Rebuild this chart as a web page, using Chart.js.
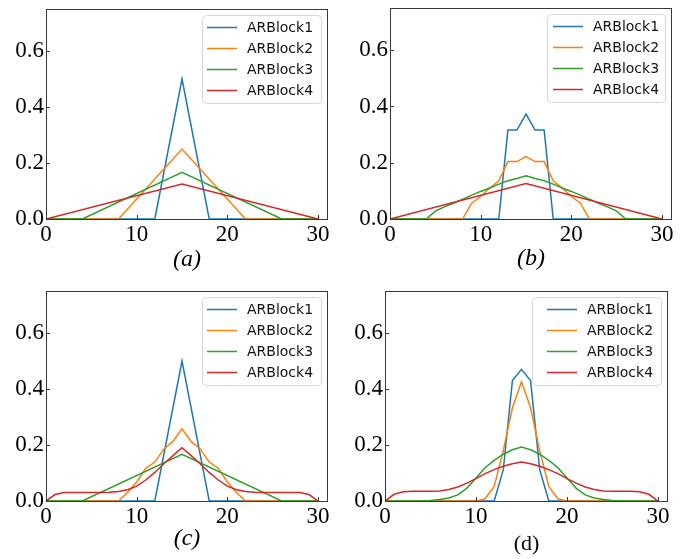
<!DOCTYPE html>
<html><head><meta charset="utf-8">
<script src="https://cdn.jsdelivr.net/npm/chart.js@4.4.0/dist/chart.umd.min.js"></script>
<style>
html,body{margin:0;padding:0;background:#fff;}
#wrap{position:relative;width:699px;height:559px;overflow:hidden;background:#fff;}
canvas{position:absolute;display:block;}
</style></head><body>
<div id="wrap">
<canvas id="ca" width="349" height="279" style="left:0;top:0"></canvas>
<canvas id="cb" width="350" height="279" style="left:349px;top:0"></canvas>
<canvas id="cc" width="349" height="280" style="left:0;top:279px"></canvas>
<canvas id="cd" width="350" height="280" style="left:349px;top:279px"></canvas>
</div>
<script>
// ---------- data ----------
const seriesNames = ['ARBlock1', 'ARBlock2', 'ARBlock3', 'ARBlock4'];
const captions = ['(a)', '(b)', '(c)', '(d)'];
const xTickValues = [0, 10, 20, 30];
const yTickValues = [0, 0.2, 0.4, 0.6];
const steps = [0,1,2,3,4,5,6,7,8,9,10,11,12,13,14,15,16,17,18,19,20,21,22,23,24,25,26,27,28,29,30];

// panel (a)
const aBlock1X = [0, 12, 15, 18, 30];
const aBlock1Y = [0, 0, 0.5, 0, 0];
const aBlock2X = [0, 8, 15, 22, 30];
const aBlock2Y = [0, 0, 0.25, 0, 0];
const aBlock3X = [0, 4, 15, 26, 30];
const aBlock3Y = [0, 0, 0.167, 0, 0];
const aBlock4X = [0, 15, 30];
const aBlock4Y = [0, 0.125, 0];

// panel (b)
const bBlock1Y = [0,0,0,0,0,0,0,0,0,0,0,0,0,0.316,0.316,0.373,0.316,0.316,0,0,0,0,0,0,0,0,0,0,0,0,0];
const bBlock2Y = [0,0,0,0,0,0,0,0,0,0.056,0.08,0.11,0.136,0.204,0.204,0.222,0.204,0.204,0.136,0.11,0.08,0.056,0,0,0,0,0,0,0,0,0];
const bBlock3Y = [0,0,0,0,0,0.028,0.043,0.056,0.07,0.085,0.098,0.11,0.124,0.136,0.144,0.154,0.144,0.136,0.124,0.11,0.098,0.085,0.07,0.056,0.043,0.028,0,0,0,0,0];
const bBlock4X = [0, 15, 30];
const bBlock4Y = [0, 0.126, 0];

// panel (c)
const cBlock1X = [0, 12, 15, 18, 30];
const cBlock1Y = [0, 0, 0.5, 0, 0];
const cBlock2Y = [0,0,0,0,0,0,0,0,0,0.03,0.068,0.117,0.139,0.186,0.213,0.258,0.213,0.186,0.139,0.117,0.068,0.03,0,0,0,0,0,0,0,0,0];
const cBlock3X = [0, 4, 15, 26, 30];
const cBlock3Y = [0, 0, 0.167, 0, 0];
const cBlock4Y = [0,0.023,0.03,0.03,0.03,0.03,0.03,0.031,0.034,0.04,0.053,0.075,0.102,0.133,0.162,0.19,0.162,0.133,0.102,0.075,0.053,0.04,0.034,0.031,0.03,0.03,0.03,0.03,0.03,0.023,0];

// panel (d)
const dBlock1Y = [0,0,0,0,0,0,0,0,0,0,0,0,0,0.112,0.43,0.47,0.43,0.112,0,0,0,0,0,0,0,0,0,0,0,0,0];
const dBlock2Y = [0,0,0,0,0,0,0,0,0,0,0,0.008,0.052,0.18,0.333,0.426,0.333,0.18,0.052,0.008,0,0,0,0,0,0,0,0,0,0,0];
const dBlock3Y = [0,0,0,0,0,0.002,0.005,0.011,0.022,0.046,0.082,0.119,0.145,0.167,0.183,0.193,0.183,0.167,0.145,0.119,0.082,0.046,0.022,0.011,0.005,0.002,0,0,0,0,0];
const dBlock4Y = [0,0.024,0.033,0.035,0.035,0.035,0.036,0.041,0.05,0.064,0.08,0.098,0.112,0.124,0.133,0.139,0.133,0.124,0.112,0.098,0.08,0.064,0.05,0.041,0.036,0.035,0.035,0.035,0.033,0.024,0];

// ---------- styling / layout ----------
const COLORS = ['#1f77b4', '#ff7f0e', '#2ca02c', '#d62728'];
const SERIF = "'Liberation Serif', 'Times New Roman', serif";
const SANS = "'DejaVu Sans', sans-serif";

const panels = [
  { id: 'ca', caption: captions[0], italic: true, capSize: 24, capPad: 7,
    series: [[aBlock1X, aBlock1Y], [aBlock2X, aBlock2Y], [aBlock3X, aBlock3Y], [aBlock4X, aBlock4Y]],
    L: 46, R: 328, T: 9, B: 219, legW: 119, legPadL: 5 },
  { id: 'cb', caption: captions[1], italic: true, capSize: 24, capPad: 8,
    series: [[steps, bBlock1Y], [steps, bBlock2Y], [steps, bBlock3Y], [bBlock4X, bBlock4Y]],
    L: 41, R: 323, T: 8, B: 219, legW: 118, legPadL: 6 },
  { id: 'cc', caption: captions[2], italic: true, capSize: 24, capPad: 8,
    series: [[cBlock1X, cBlock1Y], [steps, cBlock2Y], [cBlock3X, cBlock3Y], [steps, cBlock4Y]],
    L: 46, R: 328, T: 12, B: 222, legW: 119, legPadL: 5 },
  { id: 'cd', caption: captions[3], italic: false, capSize: 22, capPad: 4,
    series: [[steps, dBlock1Y], [steps, dBlock2Y], [steps, dBlock3Y], [steps, dBlock4Y]],
    L: 36, R: 319, T: 12, B: 222, legW: 129, legPadL: 15 }
];

const framePlugin = {
  id: 'frameTicks',
  afterDatasetsDraw(chart) {
    const { ctx, chartArea: a, scales } = chart;
    ctx.save();
    ctx.strokeStyle = '#3a3a3a';
    ctx.lineWidth = 1;
    ctx.strokeRect(Math.round(a.left) + 0.5, Math.round(a.top) + 0.5,
      Math.round(a.right - a.left) - 1, Math.round(a.bottom - a.top));
    ctx.beginPath();
    xTickValues.forEach(v => {
      const px = Math.round(scales.x.getPixelForValue(v)) + 0.5;
      ctx.moveTo(px, a.bottom);
      ctx.lineTo(px, a.bottom - 4);
    });
    yTickValues.forEach(v => {
      const py = Math.round(scales.y.getPixelForValue(v)) + 0.5;
      ctx.moveTo(a.left, py);
      ctx.lineTo(a.left + 4, py);
    });
    ctx.stroke();
    ctx.restore();
  },
  afterDraw(chart) {
    const p = chart.options.plugins.frameTicks;
    const { ctx, chartArea: a } = chart;
    const w = p.legW, h = 88;
    const x0 = a.right - 7 - w, y0 = a.top + 6;
    ctx.save();
    ctx.beginPath();
    ctx.roundRect(x0 + 0.5, y0 + 0.5, w, h, 4);
    ctx.fillStyle = 'rgba(255,255,255,0.85)';
    ctx.fill();
    ctx.strokeStyle = '#d6d6d6';
    ctx.lineWidth = 1;
    ctx.stroke();
    ctx.font = '14px ' + SANS;
    ctx.textBaseline = 'middle';
    ctx.textAlign = 'left';
    chart.data.datasets.forEach((ds, i) => {
      const yy = y0 + 12.5 + 21 * i;
      ctx.beginPath();
      ctx.strokeStyle = ds.borderColor;
      ctx.lineWidth = 1.5;
      ctx.moveTo(x0 + p.legPadL, yy);
      ctx.lineTo(x0 + p.legPadL + 30, yy);
      ctx.stroke();
      ctx.fillStyle = '#111';
      ctx.fillText(ds.label, x0 + p.legPadL + 40, yy + 1);
    });
    ctx.restore();
  }
};

panels.forEach(p => {
  const canvas = document.getElementById(p.id);
  const W = canvas.width, H = canvas.height;
  const datasets = p.series.map((s, i) => ({
    label: seriesNames[i],
    data: s[0].map((x, k) => ({ x: x, y: s[1][k] })),
    borderColor: COLORS[i],
    backgroundColor: COLORS[i],
    borderWidth: 1.5,
    pointRadius: 0,
    tension: 0,
    fill: false,
    order: 3 - i
  }));
  new Chart(canvas, {
    type: 'line',
    data: { datasets },
    plugins: [framePlugin],
    options: {
      responsive: false,
      animation: false,
      devicePixelRatio: 1,
      layout: { autoPadding: false, padding: { left: 0, top: p.T, right: W - p.R, bottom: 0 } },
      plugins: {
        legend: { display: false },
        tooltip: { enabled: false },
        frameTicks: { legW: p.legW, legPadL: p.legPadL }
      },
      scales: {
        x: {
          type: 'linear',
          min: 0, max: 31.1,
          grid: { display: false, drawTicks: false },
          border: { display: false },
          afterBuildTicks: sc => { sc.ticks = xTickValues.map(v => ({ value: v })); },
          afterFit: sc => { sc.height = H - p.B; sc.paddingLeft = 0; sc.paddingRight = 0; },
          ticks: {
            padding: 2,
            color: '#000',
            maxRotation: 0,
            font: { family: SERIF, size: 23 },
            callback: v => String(v)
          },
          title: {
            display: true,
            text: p.caption,
            color: '#000',
            font: { family: SERIF, size: p.capSize, style: p.italic ? 'italic' : 'normal', lineHeight: 1 },
            padding: { top: 0, bottom: p.capPad }
          }
        },
        y: {
          type: 'linear',
          min: 0, max: 0.75,
          grid: { display: false, drawTicks: false },
          border: { display: false },
          afterBuildTicks: sc => { sc.ticks = yTickValues.map(v => ({ value: v })); },
          afterFit: sc => { sc.width = p.L; sc.paddingTop = 0; sc.paddingBottom = 0; },
          ticks: {
            padding: 2,
            color: '#000',
            font: { family: SERIF, size: 23 },
            callback: v => Number(v).toFixed(1)
          }
        }
      }
    }
  });
});
</script>
</body></html>
